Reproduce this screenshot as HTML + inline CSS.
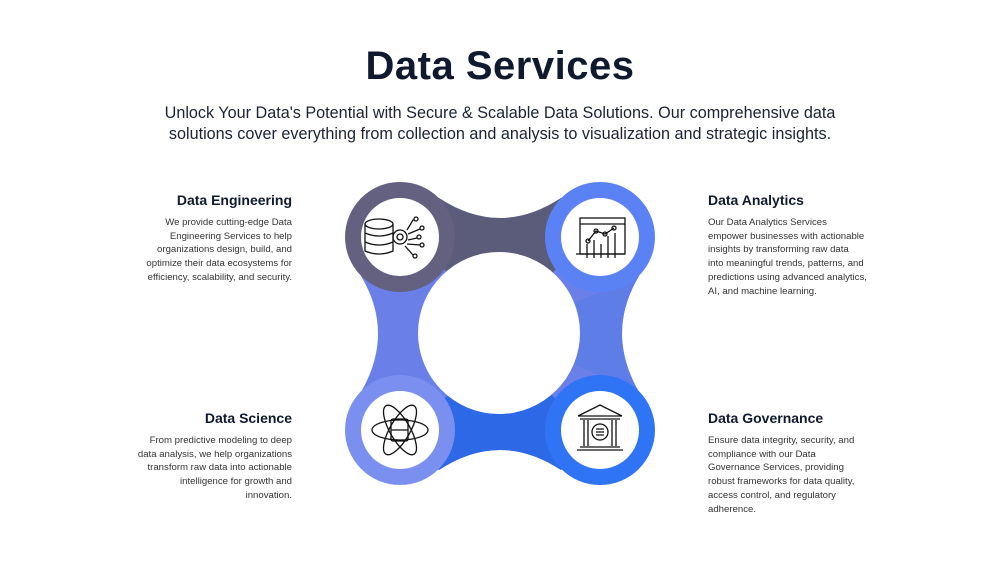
<!DOCTYPE html>
<html><head><meta charset="utf-8"><style>
html,body{margin:0;padding:0;background:#fff;}
body{width:1000px;height:562px;position:relative;overflow:hidden;font-family:"Liberation Sans",sans-serif;color:#1a2233;}
h1{position:absolute;top:44px;left:0;width:1000px;text-align:center;margin:0;font-size:40px;font-weight:bold;color:#0f1a2e;letter-spacing:0.5px;}
.sub{position:absolute;top:103px;left:0;width:1000px;text-align:center;font-size:16.2px;line-height:21px;color:#1a2233;}
.blk{position:absolute;width:200px;}
.blk h3{margin:0 0 8px 0;font-size:14px;font-weight:bold;color:#0f1a2e;}
.blk p{margin:0;font-size:9.6px;line-height:13.7px;color:#333;}
.l{text-align:right;left:92px;}
.r{text-align:left;left:708px;}
</style></head><body>
<h1>Data Services</h1>
<div class="sub">Unlock Your Data's Potential with Secure &amp; Scalable Data Solutions. Our comprehensive data<br>solutions cover everything from collection and analysis to visualization and strategic insights.</div>

<div class="blk l" style="top:192px"><h3>Data Engineering</h3><p>We provide cutting-edge Data<br>Engineering Services to help<br>organizations design, build, and<br>optimize their data ecosystems for<br>efficiency, scalability, and security.</p></div>
<div class="blk r" style="top:192px"><h3>Data Analytics</h3><p>Our Data Analytics Services<br>empower businesses with actionable<br>insights by transforming raw data<br>into meaningful trends, patterns, and<br>predictions using advanced analytics,<br>AI, and machine learning.</p></div>
<div class="blk l" style="top:410px"><h3>Data Science</h3><p>From predictive modeling to deep<br>data analysis, we help organizations<br>transform raw data into actionable<br>intelligence for growth and<br>innovation.</p></div>
<div class="blk r" style="top:410px"><h3>Data Governance</h3><p>Ensure data integrity, security, and<br>compliance with our Data<br>Governance Services, providing<br>robust frameworks for data quality,<br>access control, and regulatory<br>adherence.</p></div>

<svg width="1000" height="562" style="position:absolute;left:0;top:0">
<path d="M439 198 Q500 238 561 198 L639 276 Q605 333 639 392 L561 470 Q500 430 439 470 L361 392 Q395 333 361 276 Z" fill="#6a80e8"/>
<path d="M439 198 Q500 238 561 198 L590 230 L500 333 L410 230 Z" fill="#5b5b7a"/>
<path d="M639 276 Q605 333 639 392 L500 333 Z" fill="#5f7de6"/>
<path d="M561 470 Q500 430 439 470 L410 440 L500 333 L590 440 Z" fill="#2d68e6"/>
<circle cx="499" cy="333" r="81" fill="#fff"/>
<circle cx="400" cy="237" r="55" fill="#636080"/>
<circle cx="600" cy="237" r="55" fill="#5a82f5"/>
<circle cx="400" cy="430" r="55" fill="#7b8ff0"/>
<circle cx="600" cy="430" r="55" fill="#2f74f5"/>
<g fill="#fff"><circle cx="400" cy="237" r="39"/><circle cx="600" cy="237" r="39"/><circle cx="400" cy="430" r="39"/><circle cx="600" cy="430" r="39"/></g>
<g fill="none" stroke="#111" stroke-width="1.3">
<ellipse cx="379" cy="224" rx="14" ry="5"/><path d="M365 224 V251 Q379 257 393 251 V224 M365 233 Q379 239 393 233 M365 242 Q379 248 393 242"/>
<circle cx="400" cy="237" r="7"/><circle cx="400" cy="237" r="3"/>
<path d="M407 230 L413 220 H414 M408 234 L420 229 M408 240 L417 238 M407 244 L420 245 M405 246 L413 255"/>
<circle cx="416" cy="219" r="2"/><circle cx="422" cy="228" r="2"/><circle cx="419" cy="237" r="2"/><circle cx="422" cy="245" r="2"/><circle cx="415" cy="256" r="2"/>
<rect x="580" y="218" width="45" height="36"/><path d="M580 224 H625 M576 254 H624"/>
<path d="M587 258 V244 M594 258 V240 M601 258 V244 M608 258 V236 M615 258 V233"/>
<path d="M588 241 L596 231 L605 234 L614 228"/><circle cx="588" cy="241" r="2"/><circle cx="596" cy="231" r="2"/><circle cx="605" cy="234" r="2"/><circle cx="614" cy="228" r="2"/>
<rect x="391" y="419" width="17" height="22" rx="2"/><path d="M391 430 H408"/>
<ellipse cx="400" cy="430" rx="28" ry="10"/><ellipse cx="400" cy="430" rx="28" ry="10" transform="rotate(60 400 430)"/><ellipse cx="400" cy="430" rx="28" ry="10" transform="rotate(-60 400 430)"/>
<path d="M578 416 L600 405 L622 416 Z M580 419 H620 M580 447 H620 M577 450 H623"/>
<path d="M584 420 V446 M616 420 V446 M588 420 V446 M612 420 V446"/>
<circle cx="600" cy="432" r="8"/><path d="M596 429 H604 M596 432 H604 M596 435 H604"/>
</g>
</svg>
</body></html>
